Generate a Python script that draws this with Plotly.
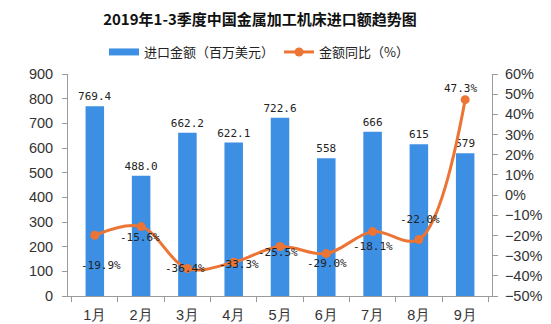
import plotly.graph_objects as go

# Monthly import value of metal-working machine tools, Q1-Q3 2019
months = ["1月", "2月", "3月", "4月", "5月", "6月", "7月", "8月", "9月"]
import_labels = ["769.4", "488.0", "662.2", "622.1", "722.6", "558", "666", "615", "579"]
import_value = [float(s) for s in import_labels]          # million USD
yoy_change = [-19.9, -15.6, -36.4, -33.3, -25.5, -29.0, -18.1, -22.0, 47.3]  # %

BAR_COLOR = "#3d8fe3"
LINE_COLOR = "#ec7434"
AXIS_COLOR = "#9a9a9a"
LABEL_FONT = dict(family="DejaVu Sans Mono, Liberation Mono, monospace", size=11, color="#222")
TICK_FONT = dict(family="Liberation Sans, Arial, sans-serif", size=14.5, color="#333")

# pixel offsets for the percentage labels so they sit clear of the curve
pct_offsets = [(6, 30), (-1, 11), (-2, 0), (5, 2), (-2, 6), (1, 10), (0, 15), (1, -20), (-5, -11)]

fig = go.Figure()
fig.add_trace(go.Bar(
    x=months, y=import_value, name="进口金额（百万美元）",
    marker=dict(color=BAR_COLOR, line=dict(width=0)),
    text=import_labels, textposition="outside", textfont=LABEL_FONT,
    constraintext="none", cliponaxis=False, showlegend=False,
))
# legend key for the bars drawn as a wide flat swatch
fig.add_trace(go.Scatter(
    x=[None], y=[None], mode="lines", name="进口金额（百万美元）",
    line=dict(color=BAR_COLOR, width=7),
))
fig.add_trace(go.Scatter(
    x=months, y=yoy_change, name="金额同比（%）", yaxis="y2",
    mode="lines+markers",
    line=dict(color=LINE_COLOR, width=3, shape="spline", smoothing=1.0),
    marker=dict(color=LINE_COLOR, size=9),
))

for m, v, (dx, dy) in zip(months, yoy_change, pct_offsets):
    fig.add_annotation(
        x=m, y=v, yref="y2", text=f"{v:.1f}%", showarrow=False,
        xshift=dx, yshift=-dy, font=LABEL_FONT,
    )

fig.update_layout(
    width=551, height=324,
    margin=dict(l=68, r=59, t=74, b=28),
    paper_bgcolor="white", plot_bgcolor="white",
    bargap=0.6,
    showlegend=True,
    title=dict(
        text="<b>2019年1-3季度中国金属加工机床进口额趋势图</b>",
        x=260 / 551, xanchor="center", y=1 - 20 / 324, yanchor="middle",
        font=dict(family="Noto Sans CJK SC", size=15, color="#111"),
    ),
    legend=dict(
        orientation="h", x=(259 - 68) / 424, xanchor="center",
        y=1 + 22 / 222, yanchor="middle",
        font=dict(family="Noto Sans CJK SC", size=13, color="#222"),
        itemwidth=30, tracegroupgap=0, bgcolor="rgba(0,0,0,0)",
    ),
    xaxis=dict(
        showline=True, linecolor=AXIS_COLOR, linewidth=1,
        ticks="outside", tickson="boundaries", ticklen=5, tickcolor=AXIS_COLOR,
        tickfont=TICK_FONT, showgrid=False, ticklabelstandoff=6, automargin=False,
    ),
    yaxis=dict(
        range=[0, 900], dtick=100, showline=True, linecolor=AXIS_COLOR,
        ticks="outside", ticklen=5, tickcolor=AXIS_COLOR,
        tickfont=TICK_FONT, showgrid=False, zeroline=False, ticklabelstandoff=6,
        automargin=False,
    ),
    yaxis2=dict(
        overlaying="y", side="right", range=[-50, 60], dtick=10, ticksuffix="%",
        showline=True, linecolor=AXIS_COLOR, ticks="outside", ticklen=5,
        tickcolor=AXIS_COLOR, tickfont=TICK_FONT, showgrid=False, zeroline=False,
        ticklabelstandoff=4, automargin=False,
    ),
)

fig.write_html("out.html")
